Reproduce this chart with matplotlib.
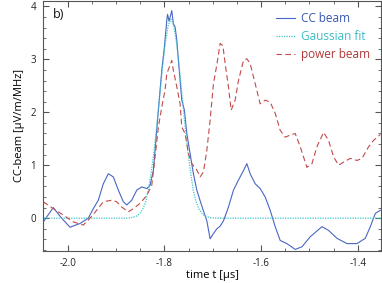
import matplotlib
matplotlib.use("Agg")
import matplotlib.pyplot as plt
from matplotlib.ticker import MultipleLocator, FixedLocator

plt.rcParams['font.family'] = ['Open Sans', 'DejaVu Sans']
plt.rcParams['axes.unicode_minus'] = False

# CC beam (blue, solid)
t_cc = [-2.0505, -2.0298, -2.0124, -1.9952, -1.9745, -1.9574, -1.947, -1.9366,
        -1.9263, -1.9159, -1.9056, -1.8952, -1.8849, -1.8778, -1.8675, -1.8571,
        -1.8468, -1.8364, -1.8296, -1.8228, -1.8193, -1.8137, -1.8089, -1.8054,
        -1.8, -1.795, -1.7934, -1.7903, -1.7847, -1.7814, -1.7778, -1.7743,
        -1.771, -1.7675, -1.764, -1.7586, -1.7536, -1.7468, -1.74, -1.7329,
        -1.7261, -1.7193, -1.7122, -1.7054, -1.6992, -1.6915, -1.6847, -1.6778,
        -1.6675, -1.6571, -1.6468, -1.6364, -1.6294, -1.6226, -1.6122, -1.6019,
        -1.5915, -1.5812, -1.5708, -1.5605, -1.5466, -1.5294, -1.5155, -1.4983,
        -1.4741, -1.4605, -1.4431, -1.4224, -1.4017, -1.3845, -1.3741, -1.3638,
        -1.3534]
cc = [-0.07, 0.20, 0.00, -0.17, -0.10, 0.00, 0.18, 0.34,
      0.65, 0.84, 0.78, 0.53, 0.31, 0.25, 0.34, 0.53,
      0.59, 0.56, 0.62, 0.90, 1.28, 1.90, 2.42, 2.79,
      3.23, 3.74, 3.85, 3.72, 3.92, 3.67, 3.61, 3.36,
      2.98, 2.60, 2.23, 2.04, 1.60, 1.22, 0.84, 0.53,
      0.33, 0.14, -0.05, -0.39, -0.30, -0.20, -0.15, -0.05,
      0.21, 0.53, 0.72, 0.90, 1.03, 0.84, 0.65, 0.56,
      0.40, 0.15, -0.16, -0.42, -0.48, -0.59, -0.54, -0.35,
      -0.16, -0.23, -0.38, -0.48, -0.48, -0.38, -0.16, 0.09,
      0.15]

# Gaussian fit (cyan, dotted)
t_fit = [-2.06, -1.90, -1.881, -1.869, -1.857, -1.851, -1.845, -1.839, -1.834,
         -1.828, -1.822, -1.816, -1.810, -1.804, -1.798, -1.792, -1.7865,
         -1.781, -1.775, -1.769, -1.763, -1.757, -1.751, -1.745, -1.740,
         -1.734, -1.728, -1.722, -1.716, -1.704, -1.693, -1.68, -1.34]
fit = [0.0, 0.0, 0.001, 0.008, 0.042, 0.086, 0.165, 0.299, 0.509,
       0.813, 1.221, 1.721, 2.281, 2.838, 3.318, 3.644, 3.76,
       3.644, 3.318, 2.838, 2.281, 1.721, 1.221, 0.813, 0.509,
       0.299, 0.165, 0.086, 0.042, 0.008, 0.001, 0.0, 0.0]

# power beam (red, dashed)
t_pw = [-2.0505, -2.0298, -2.0091, -1.9884, -1.9677, -1.9538, -1.94, -1.9263,
        -1.9089, -1.8986, -1.8882, -1.8745, -1.8642, -1.8503, -1.8364, -1.8261,
        -1.8193, -1.8124, -1.8054, -1.7986, -1.795, -1.7882, -1.7847, -1.7814,
        -1.7743, -1.7675, -1.764, -1.7572, -1.7503, -1.7433, -1.7329, -1.7261,
        -1.7193, -1.7122, -1.7054, -1.6985, -1.6915, -1.6847, -1.6791, -1.6743,
        -1.6675, -1.6619, -1.6536, -1.6468, -1.6364, -1.6294, -1.6226, -1.6122,
        -1.6019, -1.5915, -1.5812, -1.5708, -1.5605, -1.5501, -1.5398, -1.5294,
        -1.5191, -1.5052, -1.4948, -1.4845, -1.4708, -1.4605, -1.4501, -1.4398,
        -1.4294, -1.4155, -1.4017, -1.3913, -1.3776, -1.3673, -1.3534]
pw = [0.31, 0.18, 0.06, -0.07, -0.13, 0.00, 0.15, 0.31,
      0.34, 0.31, 0.21, 0.12, 0.18, 0.28, 0.43, 0.62,
      1.16, 1.72, 2.10, 2.42, 2.73, 2.89, 2.98, 2.79,
      2.48, 2.16, 1.72, 1.60, 1.22, 1.03, 0.91, 0.78,
      0.87, 1.28, 1.85, 2.54, 2.90, 3.30, 3.26, 2.92,
      2.48, 2.04, 2.23, 2.60, 2.98, 3.01, 2.92, 2.54,
      2.16, 2.23, 2.19, 1.98, 1.66, 1.53, 1.57, 1.60,
      1.35, 0.96, 1.03, 1.35, 1.62, 1.47, 1.16, 1.00,
      1.06, 1.13, 1.09, 1.13, 1.35, 1.47, 1.58]

blue = '#4866c4'
cyan = '#3ec4c8'
red = '#c24a4a'
edge = '#555555'

fig = plt.figure(figsize=(3.82, 2.83), dpi=100)
ax = fig.add_axes([0.1126, 0.113, 0.8848, 0.885])

ax.plot(t_cc, cc, color=blue, lw=0.8, label='CC beam')
ax.plot(t_fit, fit, color=cyan, lw=0.9, ls=(0, (1, 1)), label='Gaussian fit')
ax.plot(t_pw, pw, color=red, lw=0.8, ls=(0, (5, 3)), label='power beam')

ax.set_xlim(-2.051, -1.352)
ax.set_ylim(-0.62, 4.11)

ax.xaxis.set_major_locator(FixedLocator([-2.0, -1.8, -1.6, -1.4]))
ax.set_xticklabels(['-2.0', '-1.8', '-1.6', '-1.4'])
ax.xaxis.set_minor_locator(MultipleLocator(0.05))
ax.yaxis.set_major_locator(FixedLocator([0, 1, 2, 3, 4]))
ax.yaxis.set_minor_locator(MultipleLocator(0.2))

ax.tick_params(which='both', direction='in', top=True, right=True,
               color=edge, labelsize=7, labelcolor='#222222', pad=5)
ax.tick_params(which='major', length=4, width=0.8)
ax.tick_params(which='minor', length=2.5, width=0.6)
for s in ax.spines.values():
    s.set_color(edge)
    s.set_linewidth(0.8)

ax.set_xlabel('time t [\u00b5s]', fontsize=8, labelpad=1)
ax.set_ylabel('CC-beam [\u00b5V/m/MHz]', fontsize=8, labelpad=4)

ax.text(0.03, 0.945, 'b)', transform=ax.transAxes, fontsize=9,
        ha='left', va='center', color='#111111')

leg = ax.legend(loc='upper right', frameon=False, fontsize=8.5,
                handlelength=1.55, handletextpad=0.5, labelspacing=0.42,
                borderaxespad=0.55)
for txt, c in zip(leg.get_texts(), ['#3a56b0', '#3cbcc2', '#b03838']):
    txt.set_color(c)

fig.savefig('out.png', dpi=100)
